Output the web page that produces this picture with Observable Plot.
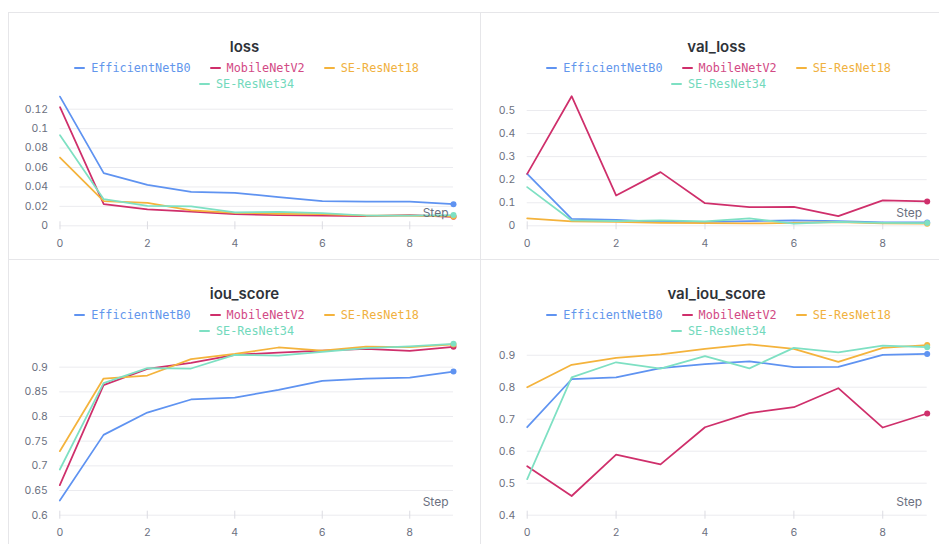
<!DOCTYPE html>
<html>
<head>
<meta charset="utf-8">
<script src="https://cdn.jsdelivr.net/npm/d3@7"></script>
<script src="https://cdn.jsdelivr.net/npm/@observablehq/plot@0.6"></script>
<style>
  html, body { margin: 0; padding: 0; background: #fff; overflow: hidden; width: 939px; height: 544px; }
  .panel { position: absolute; width: 471px; height: 300px; border: 1px solid #e6e6e9; background: #fff; box-sizing: content-box; }
  .title { position: absolute; left: 0; right: 0; top: 24px; text-align: center; font-family: Inter, "Noto Sans", sans-serif; font-weight: 600; font-size: 15px; line-height: 20px; color: #2e3238; }
  .legend { position: absolute; top: 47px; left: 50%; transform: translateX(-50%); width: 346px; margin-left: 2px; display: flex; flex-wrap: wrap; justify-content: center; column-gap: 19px; row-gap: 0; font-family: "DejaVu Sans Mono", monospace; font-size: 11.8px; line-height: 16px; }
  .item { display: flex; align-items: center; white-space: nowrap; }
  .sw { display: inline-block; width: 11px; height: 2.5px; margin-right: 6px; border-radius: 1px; }
  .chart { position: absolute; left: 0; top: 80px; }
</style>
</head>
<body>
<script>
const steps = [0, 1, 2, 3, 4, 5, 6, 7, 8, 9];
const models = ["EfficientNetB0", "MobileNetV2", "SE-ResNet18", "SE-ResNet34"];
const colors = ["#5f93f1", "#cf2f6b", "#f4b33c", "#7ee0c3"];
const textColors = ["#6296ec", "#d24a85", "#f0b13e", "#72d9bc"];
const xTicks = [0, 2, 4, 6, 8];

const lossEfficientNetB0 = [0.133, 0.0542, 0.0422, 0.035, 0.034, 0.0295, 0.0254, 0.025, 0.025, 0.0223];
const lossMobileNetV2    = [0.1221, 0.0223, 0.0168, 0.0147, 0.012, 0.011, 0.0106, 0.0099, 0.011, 0.0093];
const lossSEResNet18     = [0.0703, 0.0254, 0.0237, 0.0158, 0.0134, 0.0124, 0.012, 0.0106, 0.0106, 0.0096];
const lossSEResNet34     = [0.0933, 0.0274, 0.0206, 0.0199, 0.0137, 0.0144, 0.013, 0.0106, 0.0106, 0.011];
const lossTicks = [0, 0.02, 0.04, 0.06, 0.08, 0.1, 0.12];

const valLossEfficientNetB0 = [0.225, 0.030, 0.026, 0.017, 0.017, 0.020, 0.023, 0.020, 0.0145, 0.0145];
const valLossMobileNetV2    = [0.225, 0.562, 0.1315, 0.2327, 0.098, 0.081, 0.0824, 0.042, 0.110, 0.1055];
const valLossSEResNet18     = [0.032, 0.019, 0.017, 0.013, 0.012, 0.010, 0.013, 0.016, 0.010, 0.009];
const valLossSEResNet34     = [0.1676, 0.023, 0.020, 0.023, 0.019, 0.032, 0.009, 0.017, 0.013, 0.012];
const valLossTicks = [0, 0.1, 0.2, 0.3, 0.4, 0.5];

const iouEfficientNetB0 = [0.6297, 0.7628, 0.808, 0.8345, 0.8385, 0.854, 0.8723, 0.877, 0.879, 0.8912];
const iouMobileNetV2    = [0.6608, 0.8635, 0.8966, 0.9088, 0.925, 0.9297, 0.9338, 0.9372, 0.9331, 0.9412];
const iouSEResNet18     = [0.7297, 0.877, 0.8831, 0.9162, 0.927, 0.9399, 0.9338, 0.9419, 0.9405, 0.946];
const iouSEResNet34     = [0.6926, 0.8676, 0.898, 0.8973, 0.925, 0.9236, 0.9311, 0.9385, 0.942, 0.9473];
const iouTicks = [0.6, 0.65, 0.7, 0.75, 0.8, 0.85, 0.9];

const valIouEfficientNetB0 = [0.675, 0.825, 0.831, 0.860, 0.872, 0.881, 0.8625, 0.8635, 0.901, 0.904];
const valIouMobileNetV2    = [0.553, 0.460, 0.5896, 0.559, 0.675, 0.719, 0.7375, 0.797, 0.674, 0.718];
const valIouSEResNet18     = [0.80, 0.870, 0.892, 0.903, 0.920, 0.934, 0.920, 0.879, 0.923, 0.932];
const valIouSEResNet34     = [0.5125, 0.831, 0.878, 0.858, 0.897, 0.859, 0.923, 0.909, 0.930, 0.925];
const valIouTicks = [0.4, 0.5, 0.6, 0.7, 0.8, 0.9];

const panels = [
  {title: "loss", series: [lossEfficientNetB0, lossMobileNetV2, lossSEResNet18, lossSEResNet34],
   ticks: lossTicks, domain: [0, 0.1331], left: 8, top: 12, mL: 50.5, mR: 27, mT: 3, h: 162.3},
  {title: "val_loss", series: [valLossEfficientNetB0, valLossMobileNetV2, valLossSEResNet18, valLossSEResNet34],
   ticks: valLossTicks, domain: [0, 0.562], left: 480, top: 12, mL: 45.7, mR: 25.3, mT: 2.7, h: 162.3},
  {title: "iou_score", series: [iouEfficientNetB0, iouMobileNetV2, iouSEResNet18, iouSEResNet34],
   ticks: iouTicks, domain: [0.6, 0.948], left: 8, top: 259, mL: 50.3, mR: 27, mT: 3, h: 204.7},
  {title: "val_iou_score", series: [valIouEfficientNetB0, valIouMobileNetV2, valIouSEResNet18, valIouSEResNet34],
   ticks: valIouTicks, domain: [0.4, 0.937], left: 480, top: 259, mL: 45.7, mR: 25.3, mT: 2.9, h: 204.7}
];

const fmt = d => String(+d.toFixed(4));

for (const p of panels) {
  const div = document.createElement("div");
  div.className = "panel";
  div.style.left = p.left + "px";
  div.style.top = p.top + "px";
  document.body.appendChild(div);

  const t = document.createElement("div");
  t.className = "title";
  t.textContent = p.title;
  div.appendChild(t);

  const lg = document.createElement("div");
  lg.className = "legend";
  models.forEach((m, i) => {
    const it = document.createElement("span");
    it.className = "item";
    it.innerHTML = `<span class="sw" style="background:${colors[i]}"></span><span style="color:${textColors[i]}">${m}</span>`;
    lg.appendChild(it);
  });
  div.appendChild(lg);

  const rows = [];
  models.forEach((m, i) => p.series[i].forEach((v, j) => rows.push({model: m, step: steps[j], value: v})));

  const chart = Plot.plot({
    width: 471,
    height: p.h,
    marginLeft: p.mL,
    marginRight: p.mR,
    marginTop: p.mT,
    marginBottom: 30,
    style: {fontFamily: "Inter, 'Noto Sans', sans-serif", fontSize: "10.5px", color: "#6b7080", background: "transparent", overflow: "visible"},
    x: {domain: [0, 9]},
    y: {domain: p.domain},
    color: {domain: models, range: colors},
    marks: [
      Plot.gridY(p.ticks, {stroke: "#ebebef", strokeOpacity: 1}),
      Plot.axisY({ticks: p.ticks, tickFormat: fmt, tickSize: 0, tickPadding: 12, fill: "#6b7080", label: null}),
      Plot.axisX({ticks: xTicks, tickSize: 8, dy: -4, tickPadding: 9.5, stroke: "#dcdce2", fill: "#6b7080", label: null}),
      Plot.line(rows, {x: "step", y: "value", stroke: "model", z: "model", strokeWidth: 1.75}),
      Plot.dot(rows, Plot.selectLast({x: "step", y: "value", fill: "model", z: "model", r: 3})),
      Plot.text(["Step"], {frameAnchor: "bottom-right", text: d => d, dx: -5, dy: -9, textAnchor: "end", fill: "#6b7080", fontSize: 12})
    ]
  });
  chart.classList.add("chart");
  div.appendChild(chart);
}
</script>
</body>
</html>
